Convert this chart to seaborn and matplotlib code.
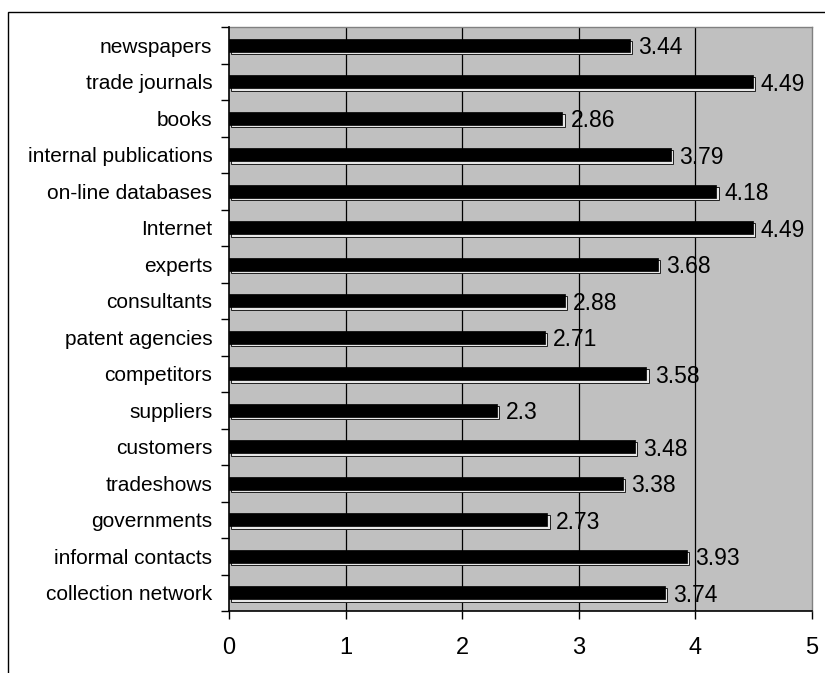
import matplotlib
matplotlib.use("Agg")
import matplotlib.pyplot as plt
import matplotlib.patheffects as pe
from matplotlib.patches import Rectangle
from matplotlib.ticker import FixedLocator
import seaborn as sns
import pandas as pd

sources = [
    "newspapers", "trade journals", "books", "internal publications",
    "on-line databases", "Internet", "experts", "consultants",
    "patent agencies", "competitors", "suppliers", "customers",
    "tradeshows", "governments", "informal contacts", "collection network",
]
scores = [3.44, 4.49, 2.86, 3.79, 4.18, 4.49, 3.68, 2.88,
          2.71, 3.58, 2.3, 3.48, 3.38, 2.73, 3.93, 3.74]
x_ticks = [0, 1, 2, 3, 4, 5]

df = pd.DataFrame({"source": sources, "score": scores})

sns.set_theme(style="white")
plt.rcParams["font.family"] = ["Liberation Sans", "DejaVu Sans"]
plt.rcParams["text.color"] = "black"
plt.rcParams["xtick.color"] = "black"
plt.rcParams["ytick.color"] = "black"

fig = plt.figure(figsize=(8.25, 6.73), dpi=100)
ax = fig.add_axes([229 / 825, 62 / 673, 583 / 825, 584 / 673])

# outer frame of the chart
fig.patches.append(Rectangle((8 / 825, -0.1), 1.2, 1 - 12 / 673 + 0.1,
                             transform=fig.transFigure, fill=False,
                             edgecolor="black", linewidth=1.0, zorder=0))

ax.set_facecolor("#c0c0c0")
sns.barplot(data=df, x="score", y="source", orient="h", color="black",
            width=0.36, saturation=1, ax=ax, zorder=3)

shadow = [pe.PathPatchEffect(offset=(1.6, -1.6), facecolor="#e8e8e8",
                             edgecolor="#202020", linewidth=0.7),
          pe.Normal()]
for bar in ax.patches:
    bar.set_edgecolor("black")
    bar.set_linewidth(0.5)
    bar.set_path_effects(shadow)

labels = ax.bar_label(ax.containers[0], labels=[f"{v:g}" for v in scores],
                      padding=6, fontsize=16.5, color="black", zorder=4)
for txt in labels:
    txt.set_verticalalignment("center_baseline")

ax.set_xlim(x_ticks[0], x_ticks[-1])
ax.set_ylim(len(sources) - 0.5, -0.5)
ax.set_xticks(x_ticks)
ax.set_xticklabels([str(t) for t in x_ticks], fontsize=17)
ax.tick_params(axis="x", direction="out", length=6, width=1, color="black",
               pad=13, bottom=True, labelcolor="black")

ax.tick_params(axis="y", which="major", length=0, pad=12, labelsize=15,
               labelcolor="black")
ax.yaxis.set_minor_locator(FixedLocator([i - 0.5 for i in range(len(sources) + 1)]))
ax.tick_params(axis="y", which="minor", direction="out", length=6, width=1,
               color="black", left=True)

for t in x_ticks[1:-1]:
    ax.axvline(t, color="black", linewidth=0.9, zorder=1)

ax.set_xlabel("")
ax.set_ylabel("")
for side in ("top", "right"):
    ax.spines[side].set_color("#808080")
    ax.spines[side].set_linewidth(1)
for side in ("left", "bottom"):
    ax.spines[side].set_color("black")
    ax.spines[side].set_linewidth(1.2)
    ax.spines[side].set_zorder(5)

fig.savefig("out.png", dpi=100)
